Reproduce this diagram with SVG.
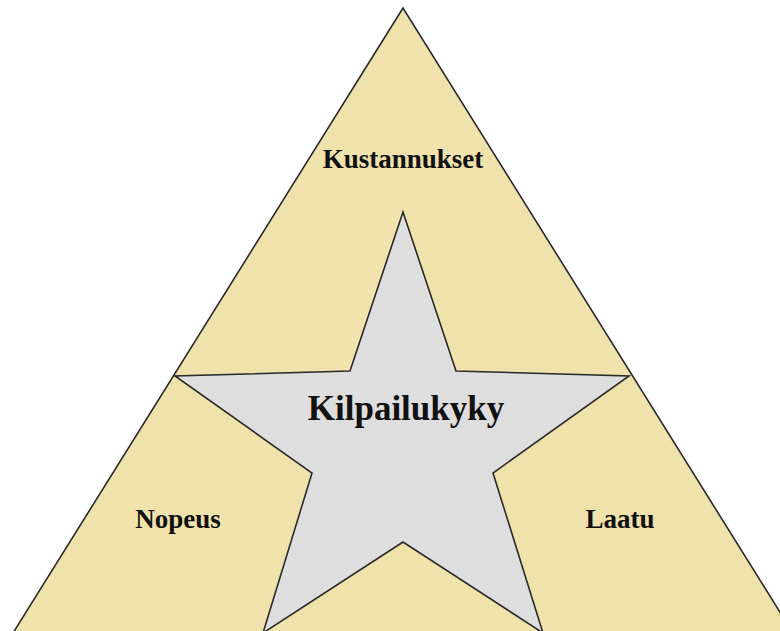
<svg xmlns="http://www.w3.org/2000/svg" width="780" height="631" viewBox="0 0 780 631">
<style>
.shape{stroke:#2a2a2a;stroke-width:1.6;stroke-linejoin:miter}
.tri{fill:#efe2ab}
.star{fill:#dedede}
.lbl{font-family:"Liberation Serif","Times New Roman",serif;font-weight:bold;fill:#111;text-anchor:middle}
</style>
<rect width="780" height="631" fill="#ffffff"/>
<g id="triangle">
<polygon class="shape tri" points="403,8 13,633 793,633"/>
</g>
<g id="star">
<polygon class="shape star" points="403,212 456,371 629,376 493,473 543,633 403,542 263,633 312,473 175,376 350,371"/>
</g>
<g id="kustannukset"><text class="lbl" x="403" y="168" font-size="27">Kustannukset</text></g>
<g id="kilpailukyky"><text class="lbl" x="406" y="420" font-size="35">Kilpailukyky</text></g>
<g id="nopeus"><text class="lbl" x="178" y="528" font-size="27">Nopeus</text></g>
<g id="laatu"><text class="lbl" x="620" y="528" font-size="27">Laatu</text></g>
<g id="connectors"></g>
</svg>
